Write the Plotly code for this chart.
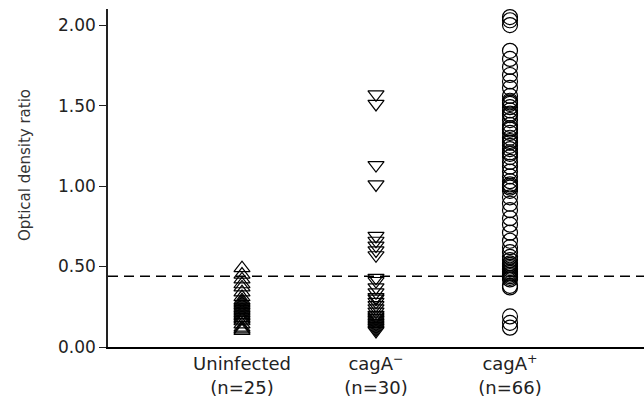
import plotly.graph_objects as go

categories = ["Uninfected<br>(n=25)", "cagA<sup>−</sup><br>(n=30)", "cagA<sup>+</sup><br>(n=66)"]
cat_pos = [1, 2, 3]

uninfected = [0.49, 0.45, 0.42, 0.39, 0.37, 0.34, 0.31, 0.29, 0.28, 0.27, 0.26, 0.25,
              0.24, 0.23, 0.22, 0.21, 0.20, 0.19, 0.18, 0.17, 0.16, 0.14, 0.12, 0.11, 0.10]
caga_neg = [1.57, 1.51, 1.13, 1.01, 0.69, 0.66, 0.63, 0.60, 0.57, 0.43, 0.41, 0.37,
            0.34, 0.31, 0.30, 0.28, 0.26, 0.24, 0.22, 0.20, 0.19, 0.18, 0.17, 0.16,
            0.15, 0.14, 0.13, 0.12, 0.11, 0.10]
caga_pos = [2.05, 2.03, 2.00, 1.84, 1.79, 1.74, 1.69, 1.65, 1.61,
            1.56, 1.53, 1.52, 1.51, 1.49, 1.47, 1.45, 1.44, 1.41, 1.38, 1.36, 1.35, 1.33,
            1.30, 1.28, 1.27, 1.25, 1.23, 1.21, 1.20, 1.18, 1.15, 1.12, 1.09, 1.06, 1.03,
            1.01, 1.00, 0.99, 0.97, 0.93, 0.89, 0.85, 0.80, 0.76, 0.71, 0.66, 0.62, 0.59,
            0.56, 0.54, 0.52, 0.51, 0.50, 0.49, 0.48, 0.47, 0.46, 0.45, 0.44, 0.43, 0.42,
            0.38, 0.37, 0.19, 0.15, 0.12]
cutoff = 0.44

y_ticks = [0, 0.5, 1.0, 1.5, 2.0]
y_ticktext = ["0.00", "0.50", "1.00", "1.50", "2.00"]

FONT = "DejaVu Sans"

fig = go.Figure()
groups = [
    (uninfected, "triangle-up-open", 14),
    (caga_neg, "triangle-down-open", 14),
    (caga_pos, "circle-open", 15),
]
for i, (vals, sym, sz) in enumerate(groups):
    fig.add_trace(go.Scatter(
        x=[cat_pos[i]] * len(vals), y=vals, mode="markers",
        marker=dict(symbol=sym, size=sz, color="black", line=dict(width=1.2, color="black")),
        showlegend=False, cliponaxis=False,
    ))

fig.add_shape(type="line", xref="x", yref="y", x0=0, x1=4, y0=cutoff, y1=cutoff,
              line=dict(color="black", width=1.5, dash="10px,6px"))

fig.update_layout(
    width=644, height=400,
    margin=dict(l=108, r=0, t=9, b=53),
    paper_bgcolor="white", plot_bgcolor="white",
    font=dict(family=FONT, size=17, color="#222"),
    xaxis=dict(range=[0, 4], tickvals=cat_pos, ticktext=categories, showgrid=False,
               zeroline=False, showline=True, linecolor="black", linewidth=1.5,
               ticks="", tickfont=dict(size=18, color="#222")),
    yaxis=dict(range=[0, 2.1], tickvals=y_ticks, ticktext=y_ticktext, showgrid=False,
               zeroline=False, showline=True, linecolor="#222", linewidth=1.5,
               ticks="outside", ticklen=7, tickcolor="#222", tickwidth=1.2,
               tickfont=dict(size=17, color="#222")),
    annotations=[dict(text="Optical density ratio", xref="paper", yref="paper",
                      x=-0.155, y=0.538, textangle=-90, showarrow=False,
                      font=dict(size=15, color="#333"), xanchor="center", yanchor="middle")],
)

fig.write_html("out.html", config={"displayModeBar": False},
               post_script="document.body.style.margin='0';")
